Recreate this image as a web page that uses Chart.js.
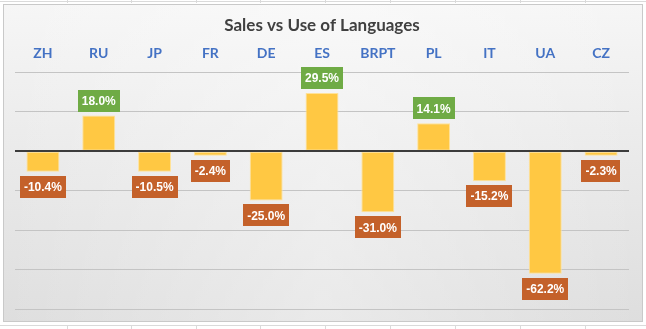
<!DOCTYPE html>
<html>
<head>
<meta charset="utf-8">
<script src="https://cdn.jsdelivr.net/npm/chart.js@4"></script>
<style>
  html, body { margin: 0; padding: 0; background: #ffffff; }
  #wrap { width: 646px; height: 329px; }
</style>
</head>
<body>
<div id="wrap"><canvas id="barchart" width="646" height="329"></canvas></div>
<script>
const languages = ['ZH', 'RU', 'JP', 'FR', 'DE', 'ES', 'BRPT', 'PL', 'IT', 'UA', 'CZ'];
const salesVsUse = [-10.4, 18.0, -10.5, -2.4, -25.0, 29.5, -31.0, 14.1, -15.2, -62.2, -2.3];
const yTicks = [-80, -60, -40, -20, 0, 20, 40];

// sheet background + chart box
const backdrop = {
  id: 'backdrop',
  beforeDraw(chart) {
    const ctx = chart.ctx;
    ctx.save();
    ctx.fillStyle = '#ffffff';
    ctx.fillRect(0, 0, chart.width, chart.height);
    // faint spreadsheet cell lines
    ctx.strokeStyle = '#dadada';
    ctx.lineWidth = 1;
    ctx.beginPath();
    ctx.moveTo(0, 1.5); ctx.lineTo(chart.width, 1.5);
    ctx.moveTo(0, 325.5); ctx.lineTo(chart.width, 325.5);
    [67, 131, 196, 260, 325, 390, 455, 520, 585].forEach(x => {
      ctx.moveTo(x + 0.5, 0); ctx.lineTo(x + 0.5, 3);
      ctx.moveTo(x + 0.5, 325); ctx.lineTo(x + 0.5, 329);
    });
    ctx.stroke();
    // chart area box
    const g = ctx.createLinearGradient(0, 4, 0, 322);
    g.addColorStop(0, '#f6f6f6');
    g.addColorStop(0.4, '#ececec');
    g.addColorStop(1, '#dedede');
    ctx.fillStyle = g;
    ctx.fillRect(3, 4, 640, 318);
    const g2 = ctx.createLinearGradient(3, 0, 643, 0);
    g2.addColorStop(0, 'rgba(255,255,255,0)');
    g2.addColorStop(0.5, 'rgba(255,255,255,0.35)');
    g2.addColorStop(1, 'rgba(255,255,255,0)');
    ctx.fillStyle = g2;
    ctx.fillRect(3, 4, 640, 318);
    ctx.strokeStyle = '#c9c9c9';
    ctx.strokeRect(3.5, 4.5, 639, 317);
    ctx.restore();
  }
};

// zero line on top of bars + value boxes
const valueBoxes = {
  id: 'valueBoxes',
  afterDatasetsDraw(chart) {
    const ctx = chart.ctx;
    const y = chart.scales.y;
    const area = chart.chartArea;
    ctx.save();
    const y0 = Math.round(y.getPixelForValue(0));
    ctx.strokeStyle = '#3c3c3c';
    ctx.lineWidth = 2;
    ctx.beginPath();
    ctx.moveTo(area.left, y0);
    ctx.lineTo(area.right, y0);
    ctx.stroke();

    ctx.font = 'bold 12px "Liberation Sans", Arial, sans-serif';
    ctx.textAlign = 'center';
    ctx.textBaseline = 'middle';
    const meta = chart.getDatasetMeta(0);
    meta.data.forEach((bar, i) => {
      const v = salesVsUse[i];
      const text = v.toFixed(1) + '%';
      const w = ctx.measureText(text).width + 8;
      const h = 22;
      const top = v >= 0 ? bar.y - 4 - h : bar.y + 4;
      ctx.fillStyle = v >= 0 ? '#6fab45' : '#c4612a';
      ctx.fillRect(Math.round(bar.x - w / 2), Math.round(top), Math.round(w), h);
      ctx.fillStyle = '#ffffff';
      ctx.fillText(text, bar.x, top + h / 2 + 1);
    });
    ctx.restore();
  }
};

const data = {
  labels: languages,
  datasets: [{
    data: salesVsUse,
    backgroundColor: '#ffc843',
    borderColor: '#ffe299',
    borderWidth: 1,
    borderSkipped: false,
    categoryPercentage: 1,
    barPercentage: 0.59,
  }],
};

const options = {
  responsive: false,
  animation: false,
  layout: { padding: { left: 15, right: 17, top: 0, bottom: 20 } },
  plugins: {
    legend: { display: false },
    tooltip: { enabled: false },
    title: {
      display: true,
      text: 'Sales vs Use of Languages',
      color: '#404040',
      font: { family: 'Lato', size: 17, weight: 'bold' },
      padding: { top: 15, bottom: 0 },
    },
  },
  scales: {
    x: {
      position: 'top',
      grid: { display: false, drawTicks: false },
      border: { display: false },
      ticks: {
        color: '#4472c4',
        font: { family: 'Lato', size: 14, weight: 'bold' },
        padding: 10,
      },
    },
    y: {
      min: -80,
      max: 40,
      afterBuildTicks: (scale) => { scale.ticks = yTicks.map(v => ({ value: v })); },
      ticks: { display: false },
      border: { display: false },
      grid: {
        drawTicks: false,
        color: (c) => c.tick && c.tick.value === 0 ? 'rgba(0,0,0,0)' : '#c4c4c4',
        lineWidth: 1,
      },
    },
  },
};

const canvas = document.getElementById('barchart');
new Chart(canvas, {
  type: 'bar',
  data: data,
  options: options,
  plugins: [backdrop, valueBoxes],
});
</script>
</body>
</html>
